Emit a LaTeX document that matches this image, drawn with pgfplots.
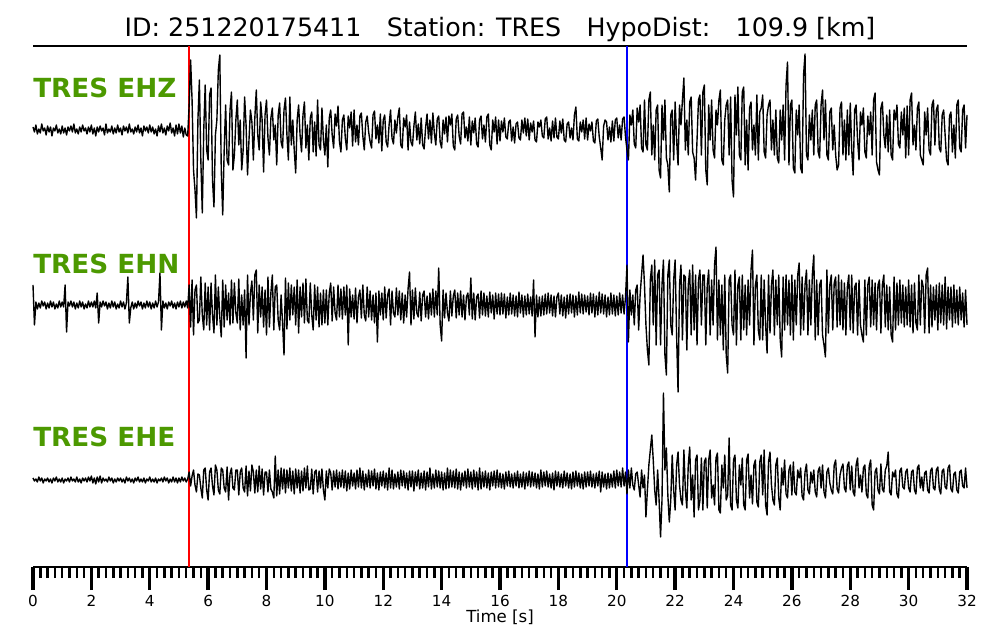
\documentclass[border=0pt]{standalone}
\usepackage{pgfplots}
\pgfplotsset{compat=1.18}
\usepackage{pgfplotstable}
\usepackage{fontspec}
\setmainfont{DejaVu Sans}
\definecolor{lblgreen}{RGB}{76,153,0}

% trace amplitudes (pixel units, up positive), one sample every 0.05 s from 0 to 32 s (20 per line = 1 s)
\pgfplotstableread[row sep=\\, header=false]{
3\\ -2\\ 5\\ -4\\ 1\\ -3\\ 6\\ -1\\ 2\\ -5\\ 4\\ -2\\ 3\\ -6\\ 2\\ -1\\ 5\\ -3\\ 1\\ -4\\
4\\ -3\\ 2\\ -5\\ 3\\ -1\\ 4\\ -2\\ 6\\ -3\\ 1\\ -4\\ 3\\ -2\\ 5\\ -1\\ 2\\ -4\\ 3\\ -2\\
5\\ -4\\ 2\\ -6\\ 3\\ -2\\ 4\\ -1\\ 2\\ -5\\ 6\\ -3\\ 1\\ -2\\ 4\\ -4\\ 2\\ -3\\ 5\\ -2\\
2\\ -5\\ 4\\ -1\\ 3\\ -3\\ 6\\ -2\\ 1\\ -4\\ 3\\ -2\\ 5\\ -3\\ 2\\ -6\\ 4\\ -1\\ 3\\ -3\\
5\\ -2\\ 3\\ -4\\ 1\\ -6\\ 4\\ -2\\ 6\\ -3\\ 2\\ -5\\ 4\\ -1\\ 7\\ -3\\ 2\\ -6\\ 5\\ -4\\
6\\ -3\\ 4\\ -7\\ 2\\ -5\\ -6\\ 25\\ 70\\ 30\\ -40\\ -60\\ -88\\ 10\\ 50\\ -30\\ -83\\ 0\\ 45\\ -20\\
-30\\ 35\\ 42\\ -50\\ -77\\ -5\\ 10\\ 60\\ 75\\ -40\\ -85\\ -20\\ 25\\ -30\\ -35\\ 20\\ 38\\ -40\\ -25\\ 10\\
30\\ -15\\ 10\\ -40\\ -20\\ 33\\ 5\\ -45\\ -10\\ 20\\ 8\\ -30\\ 12\\ 40\\ -5\\ -20\\ 28\\ 10\\ -42\\ 15\\
30\\ -8\\ -25\\ 12\\ 22\\ -10\\ 5\\ -35\\ 15\\ 27\\ -12\\ -18\\ 20\\ 32\\ -5\\ -30\\ 33\\ -15\\ 10\\ -20\\
-43\\ 10\\ 25\\ -5\\ -22\\ 15\\ 28\\ -18\\ 5\\ -30\\ 12\\ 18\\ -22\\ 8\\ -26\\ 30\\ -15\\ -20\\ 22\\ -10\\
-25\\ 5\\ -37\\ 12\\ 20\\ -5\\ -18\\ 16\\ 4\\ 24\\ -12\\ -22\\ 10\\ 15\\ -8\\ -20\\ 14\\ 2\\ 18\\ -16\\
20\\ -12\\ 5\\ -15\\ 14\\ 17\\ -6\\ -20\\ 8\\ 14\\ -2\\ -12\\ -18\\ 15\\ 19\\ -9\\ 5\\ -13\\ 16\\ -21\\
10\\ 15\\ -12\\ -17\\ 5\\ 20\\ -8\\ -14\\ 10\\ -3\\ 13\\ 22\\ -15\\ -18\\ 12\\ 3\\ 15\\ -20\\ 8\\ -12\\
-16\\ 4\\ 18\\ -10\\ 6\\ -14\\ 12\\ -15\\ -19\\ 2\\ 16\\ -9\\ 10\\ -13\\ 17\\ -3\\ -15\\ 11\\ 14\\ -12\\
-18\\ 10\\ -4\\ 13\\ -12\\ 14\\ 5\\ 16\\ -16\\ -20\\ 11\\ 15\\ -6\\ -14\\ 16\\ 18\\ -8\\ 3\\ -11\\ 13\\
-15\\ 9\\ -3\\ 12\\ -14\\ -17\\ 10\\ 14\\ -9\\ 5\\ -12\\ 13\\ 16\\ -15\\ -20\\ 10\\ -2\\ 13\\ -14\\ 10\\
-11\\ 9\\ -2\\ 12\\ -7\\ -9\\ 8\\ 10\\ -11\\ 3\\ -13\\ 6\\ 8\\ -8\\ -10\\ 10\\ -3\\ 12\\ -6\\ 11\\
-10\\ 7\\ -2\\ 9\\ -10\\ -12\\ 8\\ 3\\ 10\\ -6\\ -8\\ 11\\ 13\\ -9\\ 2\\ -11\\ 9\\ -8\\ 12\\ -7\\
-9\\ 9\\ -3\\ 11\\ -10\\ -12\\ 6\\ 8\\ -8\\ 2\\ -10\\ 15\\ 23\\ -9\\ -11\\ 8\\ -2\\ 10\\ -9\\ 12\\
-10\\ 6\\ -1\\ 8\\ -11\\ -13\\ 9\\ 11\\ -7\\ -18\\ -30\\ 4\\ 10\\ 8\\ -10\\ 3\\ -12\\ 9\\ -11\\ 10\\
12\\ -8\\ 5\\ -10\\ 11\\ 13\\ -7\\ -20\\ -30\\ 15\\ 5\\ 20\\ -14\\ -18\\ 22\\ 8\\ 25\\ -18\\ -22\\ 30\\
-15\\ -20\\ 30\\ 38\\ -25\\ 5\\ -30\\ 20\\ 25\\ -40\\ -48\\ 25\\ -10\\ 30\\ -28\\ -35\\ -62\\ 15\\ 20\\ -30\\
28\\ -10\\ -35\\ 25\\ 5\\ 30\\ 52\\ -20\\ 10\\ -25\\ 28\\ 33\\ -22\\ -28\\ -50\\ -10\\ 30\\ 35\\ -25\\ 38\\
45\\ -40\\ -55\\ 25\\ -10\\ 30\\ -20\\ -28\\ 20\\ 5\\ 30\\ 40\\ -30\\ -35\\ 10\\ 25\\ 30\\ -25\\ 33\\ -50\\
-67\\ 35\\ -5\\ 43\\ -25\\ -30\\ 38\\ 43\\ -35\\ 10\\ -40\\ 22\\ 28\\ -20\\ 5\\ -25\\ 35\\ -30\\ 18\\ 22\\
35\\ -22\\ -28\\ 15\\ 25\\ 30\\ -20\\ 10\\ -25\\ 20\\ -28\\ -33\\ 20\\ -10\\ 25\\ -30\\ 45\\ 68\\ -35\\ 25\\
30\\ -38\\ -43\\ 20\\ -5\\ 25\\ -38\\ -43\\ 55\\ 76\\ -25\\ -30\\ 15\\ -10\\ 20\\ -25\\ 25\\ 30\\ -22\\ -28\\
25\\ 40\\ -10\\ 30\\ -25\\ -30\\ 18\\ 22\\ -20\\ 5\\ -25\\ -40\\ -35\\ 22\\ 28\\ -25\\ 10\\ -30\\ 20\\ -25\\
27\\ -20\\ -45\\ 20\\ 25\\ -10\\ -30\\ 18\\ 5\\ 22\\ -22\\ -28\\ 14\\ -5\\ 18\\ -25\\ 30\\ 37\\ -32\\ -40\\
-45\\ 22\\ 28\\ -5\\ -18\\ 15\\ -22\\ 20\\ -25\\ -30\\ 20\\ 10\\ 25\\ -14\\ -18\\ 18\\ -5\\ 22\\ -28\\ 24\\
-25\\ 30\\ 37\\ -15\\ 5\\ -20\\ 22\\ 28\\ -25\\ -30\\ -35\\ 18\\ -5\\ 22\\ -20\\ -25\\ 25\\ 30\\ -15\\ 20\\
25\\ -18\\ -22\\ 15\\ 20\\ -5\\ -30\\ -35\\ 14\\ 18\\ -22\\ 5\\ -28\\ 25\\ 30\\ -18\\ -22\\ 20\\ 25\\ -18\\
15\\
}\ehz

\pgfplotstableread[row sep=\\, header=false]{
20\\ -20\\ 3\\ -4\\ 2\\ -3\\ 4\\ -1\\ 3\\ -4\\ 2\\ -3\\ 4\\ -2\\ 3\\ -4\\ 1\\ -3\\ 4\\ -2\\
3\\ -2\\ 20\\ -27\\ 3\\ -1\\ 4\\ -2\\ 3\\ -4\\ 2\\ -3\\ 4\\ -2\\ 3\\ -4\\ 1\\ -3\\ 4\\ -2\\
3\\ -2\\ 4\\ -3\\ 12\\ -18\\ 3\\ -2\\ 4\\ -1\\ 3\\ -4\\ 2\\ -3\\ 4\\ -2\\ 3\\ -4\\ 1\\ -3\\
4\\ -2\\ 3\\ -4\\ 2\\ 28\\ -18\\ -3\\ 3\\ -4\\ 2\\ -3\\ 4\\ -1\\ 3\\ -4\\ 2\\ -3\\ 4\\ -2\\
3\\ -4\\ 2\\ -3\\ 4\\ -2\\ 3\\ 32\\ -25\\ 4\\ -3\\ 2\\ -4\\ 3\\ -1\\ 4\\ -3\\ 2\\ -4\\ 3\\
-2\\ 4\\ -3\\ 3\\ -2\\ 4\\ -3\\ 20\\ -22\\ 25\\ -30\\ 15\\ 20\\ -18\\ -15\\ 28\\ -10\\ -25\\ 22\\ -20\\
18\\ -25\\ 22\\ -10\\ -28\\ 30\\ -20\\ 18\\ -12\\ -32\\ 25\\ -22\\ 20\\ -15\\ 12\\ -20\\ 25\\ -18\\ 22\\ -8\\
-18\\ 26\\ -25\\ 10\\ -20\\ 15\\ -53\\ 30\\ -20\\ 12\\ 24\\ -15\\ 30\\ 35\\ -28\\ 20\\ -12\\ 18\\ -22\\ 15\\
-30\\ 28\\ -22\\ 12\\ 30\\ -25\\ 18\\ 20\\ -15\\ -25\\ 10\\ -18\\ -50\\ 27\\ -24\\ 22\\ -15\\ 20\\ -10\\ 18\\
-20\\ 25\\ -28\\ 18\\ -12\\ 22\\ -18\\ 26\\ -15\\ -18\\ 22\\ -10\\ -25\\ 20\\ -15\\ 18\\ -22\\ 12\\ -20\\ 15\\
-18\\ 15\\ -20\\ 12\\ 22\\ -16\\ 18\\ -8\\ -15\\ 20\\ -12\\ 16\\ -14\\ 18\\ -10\\ 20\\ -40\\ 16\\ -12\\ 10\\
-14\\ 17\\ -18\\ 8\\ 15\\ -13\\ 20\\ -10\\ -16\\ 18\\ -12\\ 14\\ -15\\ 10\\ -18\\ 12\\ -37\\ 14\\ -10\\ 12\\
-15\\ 18\\ -13\\ 10\\ 16\\ -20\\ 14\\ -8\\ -12\\ 17\\ -10\\ 14\\ -15\\ 12\\ -18\\ 10\\ -12\\ 16\\ 33\\ -20\\
15\\ -14\\ 17\\ -8\\ -12\\ 13\\ -16\\ 10\\ 14\\ -12\\ 9\\ -14\\ 12\\ -10\\ 16\\ -12\\ 14\\ -10\\ 37\\ -20\\
-36\\ 15\\ -13\\ 12\\ -8\\ -16\\ 14\\ -11\\ 9\\ 15\\ -13\\ 12\\ -10\\ 14\\ -12\\ 10\\ -15\\ 8\\ 12\\ -10\\
27\\ -14\\ 12\\ -15\\ 8\\ 11\\ -13\\ 14\\ -10\\ 12\\ -11\\ 9\\ -12\\ 13\\ -8\\ 10\\ -14\\ 12\\ -9\\ 11\\
-10\\ 12\\ -9\\ 11\\ -13\\ 8\\ -10\\ 12\\ -9\\ 10\\ -11\\ 9\\ -12\\ 13\\ -8\\ 10\\ -12\\ 9\\ -10\\ 11\\
-9\\ 8\\ -11\\ 25\\ -32\\ 10\\ -12\\ 8\\ -11\\ 9\\ -10\\ 11\\ -9\\ 12\\ -8\\ 10\\ -11\\ 9\\ -12\\ 8\\
12\\ -9\\ 10\\ -11\\ 8\\ -13\\ 10\\ -9\\ 11\\ -8\\ 10\\ -12\\ 9\\ -10\\ 13\\ -8\\ 11\\ -9\\ 10\\ -7\\
9\\ -10\\ 12\\ -8\\ 11\\ -12\\ 9\\ -10\\ 13\\ -8\\ 11\\ -9\\ 10\\ -12\\ 8\\ -10\\ 12\\ -9\\ 10\\ -11\\
9\\ -10\\ 12\\ -8\\ 10\\ -9\\ 8\\ 40\\ -37\\ 15\\ -10\\ 10\\ -20\\ 15\\ 20\\ -25\\ 10\\ 30\\ 50\\ 20\\
-20\\ -45\\ -60\\ 25\\ 40\\ -20\\ 45\\ -40\\ 30\\ 35\\ -40\\ 20\\ 45\\ -50\\ -70\\ 30\\ 45\\ -20\\ -30\\ 25\\
45\\ -30\\ -87\\ 20\\ 40\\ -35\\ 30\\ 28\\ -45\\ 20\\ 35\\ -30\\ 40\\ -25\\ 30\\ -40\\ 25\\ 35\\ -20\\ 30\\
30\\ -40\\ 20\\ 35\\ -30\\ 25\\ -20\\ 40\\ 58\\ -35\\ 25\\ -30\\ 20\\ -45\\ 30\\ -50\\ -68\\ 25\\ 30\\ -20\\
-30\\ 35\\ -40\\ 20\\ 28\\ -35\\ 30\\ -25\\ 20\\ -30\\ 25\\ -20\\ 35\\ 55\\ -40\\ 20\\ 30\\ -25\\ -35\\ 30\\
-35\\ 25\\ -20\\ -48\\ 30\\ -28\\ 20\\ 35\\ -30\\ 25\\ -20\\ 30\\ -35\\ -52\\ 28\\ -25\\ 30\\ -20\\ 25\\ -30\\
30\\ -35\\ 25\\ -20\\ 30\\ 42\\ -30\\ 28\\ -25\\ 20\\ 35\\ -30\\ 25\\ -20\\ 30\\ 50\\ -35\\ 25\\ -30\\ 20\\
25\\ -30\\ -40\\ -52\\ 35\\ -28\\ 20\\ 30\\ -25\\ 22\\ 28\\ -22\\ 30\\ -20\\ 25\\ -25\\ 22\\ -30\\ 18\\ 30\\
-25\\ 30\\ -28\\ 18\\ 22\\ -30\\ 25\\ -20\\ -30\\ -37\\ 25\\ -30\\ 20\\ 28\\ -22\\ 25\\ -20\\ 22\\ -25\\ 20\\
25\\ -28\\ 20\\ 30\\ -22\\ 20\\ -25\\ 18\\ -30\\ -37\\ 28\\ -25\\ 22\\ -20\\ 25\\ -18\\ 20\\ -22\\ 18\\ -20\\
25\\ -22\\ 20\\ -28\\ 22\\ -18\\ -25\\ 30\\ -20\\ 25\\ 18\\ -28\\ 30\\ 37\\ -28\\ 20\\ -22\\ 18\\ -15\\ 20\\
-25\\ 22\\ -18\\ 20\\ -20\\ 28\\ -24\\ 18\\ -15\\ 18\\ -22\\ 20\\ -18\\ 15\\ -20\\ 18\\ -15\\ 12\\ -22\\ 15\\
-20\\
}\ehn

\pgfplotstableread[row sep=\\, header=false]{
2\\ -1\\ 1\\ -2\\ 3\\ -1\\ 2\\ -3\\ 1\\ -1\\ 2\\ -2\\ 1\\ -3\\ 2\\ -1\\ 3\\ -2\\ 1\\ -2\\
2\\ -3\\ 1\\ -1\\ 2\\ -2\\ 3\\ -1\\ 1\\ -2\\ 3\\ -2\\ 1\\ -3\\ 2\\ -1\\ 2\\ -2\\ 3\\ -1\\
4\\ -3\\ 2\\ -4\\ 3\\ -2\\ 4\\ -3\\ 2\\ -1\\ 1\\ -2\\ 3\\ -1\\ 2\\ -3\\ 1\\ -2\\ 2\\ -1\\
2\\ -2\\ 1\\ -3\\ 3\\ -1\\ 2\\ -2\\ 1\\ -3\\ 2\\ -1\\ 3\\ -2\\ 1\\ -2\\ 2\\ -3\\ 1\\ -1\\
3\\ -2\\ 1\\ -2\\ 2\\ -3\\ 1\\ -1\\ 2\\ -2\\ 3\\ -1\\ 2\\ -3\\ 1\\ -2\\ 3\\ -2\\ 2\\ -3\\
2\\ -2\\ 3\\ -1\\ 2\\ -2\\ 1\\ 8\\ -6\\ 4\\ 10\\ -5\\ -12\\ 6\\ 5\\ -8\\ -18\\ 10\\ 12\\ -10\\
-20\\ 8\\ 12\\ -6\\ -15\\ 15\\ 10\\ -10\\ -14\\ 12\\ 10\\ -8\\ -12\\ 13\\ -20\\ 6\\ 12\\ -8\\ -10\\ 10\\
10\\ -15\\ 8\\ 12\\ -8\\ -12\\ 14\\ -16\\ 9\\ -11\\ 15\\ 8\\ -13\\ 10\\ -12\\ 14\\ -9\\ 11\\ -15\\ 8\\
8\\ -12\\ 10\\ -9\\ -12\\ -18\\ 24\\ -16\\ 10\\ -14\\ 12\\ -9\\ 11\\ -13\\ 10\\ -8\\ 12\\ -11\\ 9\\ -14\\
11\\ -8\\ 10\\ -13\\ 9\\ -11\\ 12\\ -8\\ 14\\ -10\\ -9\\ 11\\ -14\\ 8\\ 10\\ -12\\ 9\\ -8\\ 11\\ -10\\
-20\\ 9\\ -8\\ 11\\ 7\\ -10\\ 9\\ -7\\ 10\\ -9\\ 8\\ -7\\ 10\\ -8\\ 9\\ -11\\ 7\\ -9\\ 10\\ -6\\
7\\ -9\\ 10\\ -7\\ 12\\ -8\\ 9\\ -10\\ 6\\ -7\\ 10\\ -8\\ 9\\ -6\\ 11\\ -9\\ 7\\ -10\\ 8\\ -6\\
9\\ -8\\ 7\\ -10\\ 12\\ -8\\ 10\\ -9\\ 6\\ -7\\ 8\\ -9\\ 10\\ -6\\ 9\\ -8\\ 7\\ -10\\ 9\\ -7\\
9\\ -11\\ 8\\ -6\\ 10\\ -9\\ 7\\ -8\\ 9\\ -10\\ 8\\ -7\\ 12\\ -9\\ 6\\ -8\\ 10\\ -7\\ 9\\ -8\\
8\\ -10\\ 7\\ -9\\ 12\\ -8\\ 10\\ -7\\ 9\\ -8\\ 11\\ -9\\ 8\\ -10\\ 7\\ -6\\ 9\\ -8\\ 11\\ -7\\
8\\ -9\\ 10\\ -7\\ 8\\ -10\\ 12\\ -9\\ 8\\ -7\\ 9\\ -8\\ 7\\ -10\\ 8\\ -6\\ 9\\ -8\\ 10\\ -7\\
7\\ -8\\ 6\\ -9\\ 8\\ -6\\ 9\\ -7\\ 6\\ -8\\ 7\\ -6\\ 9\\ -8\\ 6\\ -7\\ 8\\ -9\\ 7\\ -6\\
9\\ -7\\ 8\\ -6\\ 7\\ -8\\ 6\\ -9\\ 10\\ -7\\ 8\\ -6\\ 9\\ -7\\ 6\\ -8\\ 7\\ -10\\ 9\\ -6\\
8\\ -7\\ 6\\ -8\\ 9\\ -6\\ 7\\ -8\\ 6\\ -9\\ 8\\ -7\\ 9\\ -6\\ 7\\ -8\\ 6\\ -9\\ 8\\ -7\\
8\\ -6\\ 9\\ -7\\ 6\\ -8\\ 7\\ -6\\ 9\\ -12\\ 8\\ -7\\ 6\\ -9\\ 7\\ -8\\ 6\\ -7\\ 9\\ -8\\
10\\ -6\\ 8\\ -7\\ 12\\ -6\\ 8\\ -14\\ 10\\ -8\\ 12\\ -5\\ -10\\ 6\\ 8\\ -5\\ -17\\ 10\\ -8\\ 5\\
-37\\ -10\\ 15\\ 30\\ 45\\ 20\\ -10\\ -25\\ 10\\ -20\\ -57\\ -20\\ 87\\ 10\\ 32\\ -15\\ -42\\ -20\\ 25\\ -10\\
-30\\ 15\\ 28\\ -5\\ -20\\ -25\\ 30\\ -10\\ -28\\ 15\\ 33\\ -20\\ 5\\ -37\\ 20\\ 25\\ -30\\ -20\\ 22\\ -30\\
18\\ 22\\ -28\\ 20\\ 30\\ -18\\ -5\\ -25\\ 22\\ 27\\ -30\\ -33\\ 15\\ -8\\ 25\\ -20\\ -15\\ 42\\ -25\\ -30\\
20\\ 25\\ -20\\ -28\\ 15\\ -5\\ 22\\ -25\\ -30\\ 20\\ 26\\ -18\\ 5\\ -24\\ 15\\ 20\\ -22\\ -27\\ 18\\ 25\\
-15\\ 30\\ -25\\ -35\\ 18\\ 28\\ -5\\ -20\\ -25\\ 15\\ 22\\ -18\\ -30\\ 12\\ -5\\ 20\\ -14\\ -18\\ 10\\ 15\\
-15\\ 18\\ -12\\ -15\\ 10\\ 2\\ 12\\ -16\\ -20\\ 8\\ 16\\ -10\\ -14\\ 8\\ -3\\ 10\\ -12\\ -17\\ 9\\ 13\\
-8\\ 15\\ -12\\ -18\\ 8\\ 12\\ -3\\ -10\\ -14\\ 15\\ 20\\ -9\\ -13\\ 5\\ 12\\ 16\\ -8\\ -12\\ 14\\ 18\\
-10\\ 14\\ -12\\ -16\\ 15\\ 22\\ -8\\ 5\\ -12\\ 12\\ 15\\ -14\\ -18\\ 14\\ 20\\ -25\\ -30\\ 8\\ 12\\ -10\\
-14\\ 16\\ -9\\ -12\\ 10\\ 14\\ 28\\ -12\\ -15\\ 8\\ 3\\ 10\\ -14\\ -18\\ 9\\ 12\\ -7\\ -9\\ 8\\ 11\\
-8\\ -12\\ 8\\ 10\\ -10\\ -14\\ 12\\ 15\\ -8\\ 3\\ -11\\ 7\\ 9\\ -10\\ -13\\ 9\\ 12\\ -8\\ -10\\ 10\\
13\\ -9\\ -14\\ 9\\ 11\\ -7\\ -9\\ 12\\ 15\\ -9\\ -12\\ 6\\ 8\\ -10\\ -13\\ 8\\ 10\\ -6\\ -8\\ 12\\
-8\\
}\ehe

\begin{document}
\begin{tikzpicture}[x=0.72bp,y=0.72bp]
\path[use as bounding box] (0,0) rectangle (1000,640);
\begin{axis}[
  at={(23.76bp,52.56bp)}, anchor=south west,
  scale only axis, width=672.48bp, height=375.12bp,
  xmin=0, xmax=32, ymin=73, ymax=594,
  separate axis lines,
  axis x line=box, axis y line=none,
  xtick pos=left,
  axis line style={line width=1bp, black},
  ytick=\empty,
  xtick={0,2,...,32},
  minor x tick num=7,
  tick align=outside,
  major tick length=16.6bp,
  minor tick length=8bp,
  every major tick/.append style={line width=2.4bp, black},
  every minor tick/.append style={line width=1.8bp, black},
  /pgf/number format/assume math mode=true,
  xticklabel style={font=\fontsize{11}{13}\selectfont},
  title={ID: 251220175411\quad Station: TRES\quad HypoDist:\quad 109.9 [km]},
  title style={font=\fontsize{18.3}{22}\selectfont, at={(axis description cs:0.5,1)}, anchor=base, yshift=1bp},
  xlabel={Time [s]},
  xlabel style={font=\fontsize{12}{14}\selectfont, at={(axis description cs:0.5,0)}, anchor=base, yshift=-40.3bp},
  clip=false,
]
\addplot[red, line width=1bp] coordinates {(5.34,73) (5.34,594)};
\addplot[blue, line width=1bp] coordinates {(20.35,73) (20.35,594)};
\addplot[black, line width=1bp, line join=round] table[x index=0, y index=0, x expr=\coordindex*0.05, y expr=\thisrowno{0}+510] {\ehz};
\addplot[black, line width=1bp, line join=round] table[x index=0, y index=0, x expr=\coordindex*0.05, y expr=\thisrowno{0}+335] {\ehn};
\addplot[black, line width=1bp, line join=round] table[x index=0, y index=0, x expr=\coordindex*0.05, y expr=\thisrowno{0}+160] {\ehe};
\node[anchor=base west, inner sep=0, text=lblgreen, font=\fontsize{19}{23}\selectfont\bfseries] at (axis cs:0,542) {TRES EHZ};
\node[anchor=base west, inner sep=0, text=lblgreen, font=\fontsize{19}{23}\selectfont\bfseries] at (axis cs:0,366) {TRES EHN};
\node[anchor=base west, inner sep=0, text=lblgreen, font=\fontsize{19}{23}\selectfont\bfseries] at (axis cs:0,193) {TRES EHE};
\end{axis}
\end{tikzpicture}
\end{document}
